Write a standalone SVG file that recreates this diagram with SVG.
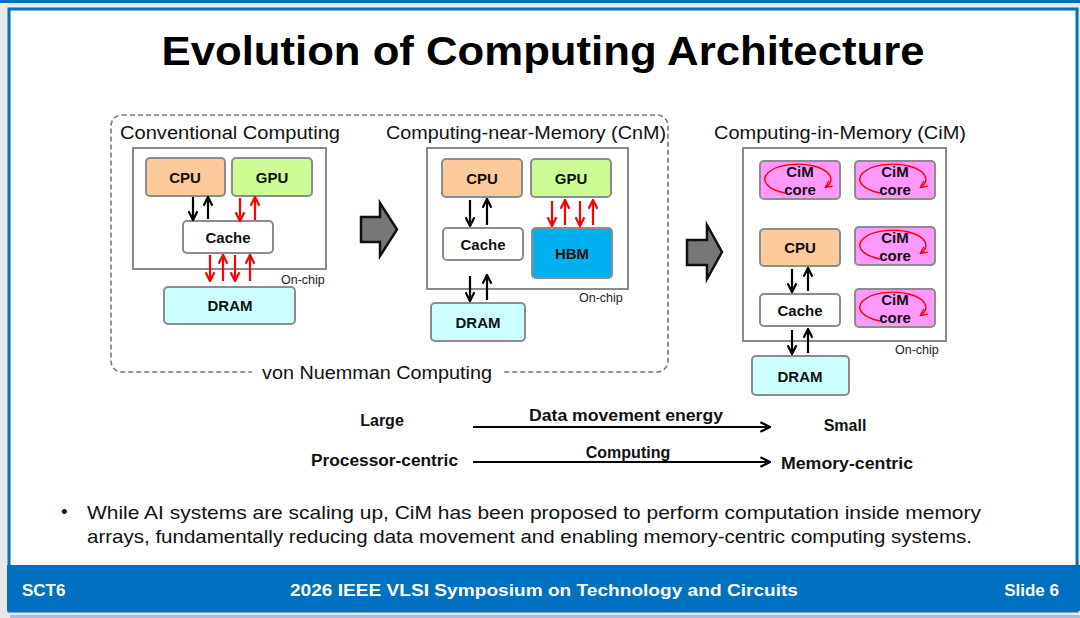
<svg xmlns="http://www.w3.org/2000/svg" width="1080" height="618" viewBox="0 0 1080 618">
<defs>
<marker id="ak" viewBox="0 0 10 10" refX="8" refY="5" markerWidth="5" markerHeight="5" orient="auto" markerUnits="strokeWidth"><path d="M1,1 L9,5 L1,9" fill="none" stroke="#000" stroke-width="2"/></marker>
<marker id="ar" viewBox="0 0 10 10" refX="8" refY="5" markerWidth="5" markerHeight="5" orient="auto" markerUnits="strokeWidth"><path d="M1,1 L9,5 L1,9" fill="none" stroke="#ff0000" stroke-width="2"/></marker>
<marker id="al" viewBox="0 0 10 10" refX="9" refY="5" markerWidth="6" markerHeight="6" orient="auto" markerUnits="strokeWidth"><path d="M1,1 L9,5 L1,9" fill="none" stroke="#000" stroke-width="1.8"/></marker>
<marker id="ac" viewBox="0 0 10 10" refX="8" refY="5" markerWidth="6" markerHeight="6" orient="auto" markerUnits="strokeWidth"><path d="M1,1 L9,5 L1,9" fill="none" stroke="#ff0000" stroke-width="1.6"/></marker>
</defs>
<style>
text{font-family:"Liberation Sans","Noto Sans",Arial,sans-serif;}
.b{font-weight:bold;font-size:15px;text-anchor:middle;fill:#111;}
.h{font-size:18px;fill:#111;}
.chip{fill:#fff;stroke:#8a8a8a;stroke-width:2;}
.node{stroke:#8c8c8c;stroke-width:2;}
.cpu{fill:#fccb99;}
.gpu{fill:#ccfc93;}
.cache{fill:#fff;}
.dram{fill:#ccffff;}
.hbm{fill:#00b0f0;}
.cim{fill:#ff99ff;}
.oc{font-size:12.5px;fill:#222;}
.k{stroke:#000;stroke-width:2.2;marker-end:url(#ak);}
.r{stroke:#ff0000;stroke-width:2.2;marker-end:url(#ar);}
.loop{fill:none;stroke:#ff0000;stroke-width:1.4;marker-end:url(#ac);}
.bar{font-size:16px;font-weight:bold;fill:#111;}
.ft{font-size:17px;font-weight:bold;fill:#fff;}
.big{fill:#777;stroke:#111;stroke-width:2.5;}
</style>
<!-- slide frame -->
<rect x="0" y="0" width="1080" height="618" fill="#e8e8e8"/>
<rect x="0" y="0" width="1080" height="3" fill="#0070c0"/>
<rect x="9" y="9" width="1068" height="602" fill="#fff" stroke="#0070c0" stroke-width="3"/>
<rect x="7" y="565" width="1073" height="46" fill="#0070c0"/>
<rect x="10" y="615" width="1070" height="3" fill="#9cc3e6"/>
<text x="543" y="65" text-anchor="middle" font-size="40" font-weight="bold" fill="#000" textLength="763" lengthAdjust="spacingAndGlyphs">Evolution of Computing Architecture</text>

<!-- von Neumann group -->
<g id="vonneumann">
<rect x="111" y="115" width="557" height="257" rx="11" fill="none" stroke="#7a7a7a" stroke-width="1.6" stroke-dasharray="5,3"/>
<rect x="252" y="362" width="250" height="20" fill="#fff"/>
<text x="377" y="379" class="h" text-anchor="middle" textLength="230" lengthAdjust="spacingAndGlyphs">von Nuemman Computing</text>
</g>

<!-- Conventional -->
<g id="conventional">
<text x="120" y="139" class="h" textLength="220" lengthAdjust="spacingAndGlyphs">Conventional Computing</text>
<rect x="133" y="148" width="193" height="121" class="chip"/>
<text x="281" y="284" class="oc">On-chip</text>
</g>
<g id="conv-cpu"><rect x="146" y="158" width="79" height="38" rx="4" class="node cpu"/><text x="185" y="183" class="b">CPU</text></g>
<g id="conv-gpu"><rect x="232" y="158" width="80" height="38" rx="4" class="node gpu"/><text x="272" y="183" class="b">GPU</text></g>
<g id="conv-cache"><rect x="183" y="221" width="90" height="32" rx="4" class="node cache"/><text x="228" y="243" class="b">Cache</text></g>
<g id="conv-dram"><rect x="164" y="287" width="131" height="37" rx="4" class="node dram"/><text x="230" y="311" class="b">DRAM</text></g>

<!-- big arrows -->
<g id="arrow1"><path d="M361,217 L380,217 L380,203 L397,229.5 L380,256 L380,242 L361,242 Z" class="big"/></g>
<g id="arrow2"><path d="M687,240 L707,240 L707,225 L722,252 L707,279 L707,265 L687,265 Z" class="big"/></g>

<!-- CnM -->
<g id="cnm">
<text x="386" y="139" class="h" textLength="280" lengthAdjust="spacingAndGlyphs">Computing-near-Memory (CnM)</text>
<rect x="427" y="148" width="201" height="141" class="chip"/>
<text x="579" y="302" class="oc">On-chip</text>
</g>
<g id="cnm-cpu"><rect x="442" y="159" width="80" height="38" rx="4" class="node cpu"/><text x="482" y="184" class="b">CPU</text></g>
<g id="cnm-gpu"><rect x="531" y="159" width="80" height="38" rx="4" class="node gpu"/><text x="571" y="184" class="b">GPU</text></g>
<g id="cnm-cache"><rect x="443" y="228" width="80" height="32" rx="4" class="node cache"/><text x="483" y="250" class="b">Cache</text></g>
<g id="cnm-hbm"><rect x="532" y="228" width="80" height="50" rx="4" class="node hbm"/><text x="572" y="259" class="b">HBM</text></g>
<g id="cnm-dram"><rect x="431" y="303" width="94" height="38" rx="4" class="node dram"/><text x="478" y="328" class="b">DRAM</text></g>

<!-- CiM -->
<g id="cim">
<text x="714" y="139" class="h" textLength="252" lengthAdjust="spacingAndGlyphs">Computing-in-Memory (CiM)</text>
<rect x="743" y="148" width="203" height="193" class="chip"/>
<text x="895" y="354" class="oc">On-chip</text>
</g>
<g id="cim-core1"><rect x="760" y="161" width="80" height="38" rx="4" class="node cim"/><path d="M785,193 A33 15 0 1 1 826,187" class="loop"/><text x="800" y="177" class="b">CiM</text><text x="800" y="195" class="b">core</text></g>
<g id="cim-core2"><rect x="855" y="161" width="80" height="38" rx="4" class="node cim"/><path d="M880,193 A33 15 0 1 1 921,187" class="loop"/><text x="895" y="177" class="b">CiM</text><text x="895" y="195" class="b">core</text></g>
<g id="cim-core3"><rect x="855" y="227" width="80" height="38" rx="4" class="node cim"/><path d="M880,259 A33 15 0 1 1 921,253" class="loop"/><text x="895" y="243" class="b">CiM</text><text x="895" y="261" class="b">core</text></g>
<g id="cim-core4"><rect x="855" y="289" width="80" height="38" rx="4" class="node cim"/><path d="M880,321 A33 15 0 1 1 921,315" class="loop"/><text x="895" y="305" class="b">CiM</text><text x="895" y="323" class="b">core</text></g>
<g id="cim-cpu"><rect x="760" y="229" width="80" height="37" rx="4" class="node cpu"/><text x="800" y="253" class="b">CPU</text></g>
<g id="cim-cache"><rect x="760" y="294" width="80" height="32" rx="4" class="node cache"/><text x="800" y="316" class="b">Cache</text></g>
<g id="cim-dram"><rect x="752" y="356" width="97" height="39" rx="4" class="node dram"/><text x="800" y="382" class="b">DRAM</text></g>

<!-- connectors -->
<g id="connectors">
<line x1="193" y1="197" x2="193" y2="219" class="k"/>
<line x1="208" y1="219" x2="208" y2="198" class="k"/>
<line x1="240" y1="198" x2="240" y2="220" class="r"/>
<line x1="255" y1="220" x2="255" y2="198" class="r"/>
<line x1="210" y1="255" x2="210" y2="280" class="r"/>
<line x1="223" y1="281" x2="223" y2="256" class="r"/>
<line x1="235" y1="255" x2="235" y2="280" class="r"/>
<line x1="250" y1="281" x2="250" y2="256" class="r"/>

<line x1="470" y1="200" x2="470" y2="225" class="k"/>
<line x1="487" y1="225" x2="487" y2="200" class="k"/>
<line x1="552" y1="201" x2="552" y2="225" class="r"/>
<line x1="565" y1="225" x2="565" y2="201" class="r"/>
<line x1="580" y1="201" x2="580" y2="225" class="r"/>
<line x1="593" y1="225" x2="593" y2="201" class="r"/>
<line x1="470" y1="276" x2="470" y2="300" class="k"/>
<line x1="487" y1="300" x2="487" y2="276" class="k"/>

<line x1="792" y1="269" x2="792" y2="291" class="k"/>
<line x1="808" y1="291" x2="808" y2="269" class="k"/>
<line x1="792" y1="330" x2="792" y2="353" class="k"/>
<line x1="808" y1="353" x2="808" y2="330" class="k"/>

<line x1="473" y1="427" x2="770" y2="427" stroke="#000" stroke-width="2" marker-end="url(#al)"/>
<line x1="473" y1="462" x2="770" y2="462" stroke="#000" stroke-width="2" marker-end="url(#al)"/>
</g>

<g id="scale">
<text x="382" y="426" class="bar" text-anchor="middle">Large</text>
<text x="626" y="421" class="bar" text-anchor="middle" textLength="194" lengthAdjust="spacingAndGlyphs">Data movement energy</text>
<text x="845" y="431" class="bar" text-anchor="middle">Small</text>
<text x="311" y="466" class="bar" textLength="147" lengthAdjust="spacingAndGlyphs">Processor-centric</text>
<text x="628" y="458" class="bar" text-anchor="middle">Computing</text>
<text x="781" y="469" class="bar" textLength="132" lengthAdjust="spacingAndGlyphs">Memory-centric</text>
</g>

<g id="bullet">
<text x="61" y="518" font-size="19" fill="#111">•</text>
<text x="87" y="519" font-size="19" fill="#111" textLength="894" lengthAdjust="spacingAndGlyphs">While AI systems are scaling up, CiM has been proposed to perform computation inside memory</text>
<text x="87" y="543" font-size="19" fill="#111" textLength="885" lengthAdjust="spacingAndGlyphs">arrays, fundamentally reducing data movement and enabling memory-centric computing systems.</text>
</g>

<g id="footer">
<text x="22" y="596" class="ft">SCT6</text>
<text x="544" y="596" class="ft" text-anchor="middle" textLength="508" lengthAdjust="spacingAndGlyphs">2026 IEEE VLSI Symposium on Technology and Circuits</text>
<text x="1059" y="596" class="ft" text-anchor="end">Slide 6</text>
</g>
</svg>
